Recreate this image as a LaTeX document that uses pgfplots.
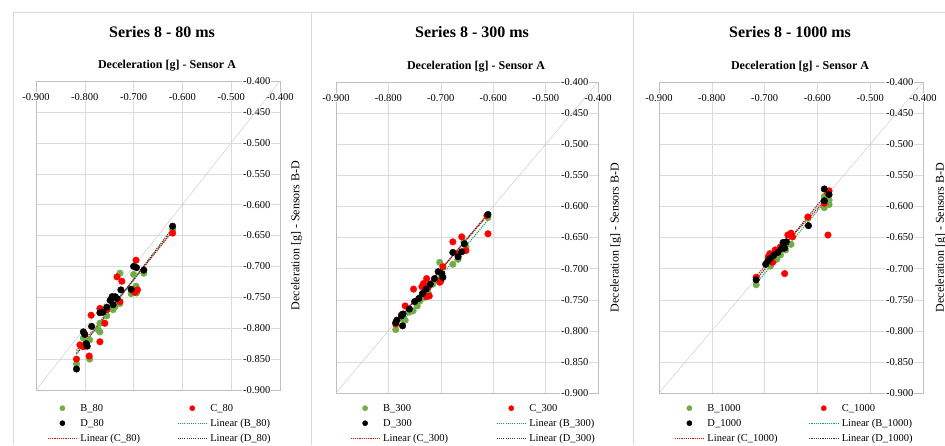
\documentclass[border=0pt]{standalone}
\usepackage{fontspec}
\setmainfont{Liberation Serif}
\usepackage{pgfplots}
\pgfplotsset{compat=1.18}
\definecolor{bgreen}{RGB}{112,173,71}
\definecolor{cred}{RGB}{255,0,0}
\definecolor{tgreen}{RGB}{0,176,80}
\pgfplotsset{
  markleg/.style={legend image code/.code={%
      \draw[mark repeat=2,mark phase=2,##1,mark size=2.6pt] plot coordinates {(0pt,0pt) (14.5pt,0pt) (29pt,0pt)};}},
  lineleg/.style={legend image code/.code={\draw[##1] (0pt,0pt) -- (29pt,0pt);}},
  sB/.style={only marks, mark=*, mark size=3.3pt, color=bgreen, markleg},
  sC/.style={only marks, mark=*, mark size=3.3pt, color=cred, markleg},
  sD/.style={only marks, mark=*, mark size=3.3pt, color=black, markleg},
  tB/.style={color=tgreen, line width=1.1pt, dash pattern=on 1.1pt off 1.1pt, lineleg},
  tC/.style={color=cred, line width=1.1pt, dash pattern=on 1.1pt off 1.1pt, lineleg},
  tD/.style={color=black!80, line width=1.1pt, dash pattern=on 1.1pt off 1.1pt, lineleg},
  panel/.style={
    scale only axis, anchor=south west,
    xmin=-0.9, xmax=-0.4, ymin=-0.9, ymax=-0.4,
    xtick={-0.9,-0.8,-0.7,-0.6,-0.5,-0.4},
    xticklabels={-0.900,-0.800,-0.700,-0.600,-0.500,-0.400},
    ytick={-0.9,-0.85,-0.8,-0.75,-0.7,-0.65,-0.6,-0.55,-0.5,-0.45,-0.4},
    yticklabels={-0.900,-0.850,-0.800,-0.750,-0.700,-0.650,-0.600,-0.550,-0.500,-0.450,-0.400},
    xticklabel pos=right, yticklabel pos=right,
    xticklabel shift=-20.5pt, yticklabel shift=-38pt,
    grid=major, major grid style={draw=black!14},
    axis line style={draw=black!25},
    major tick length=0pt,
    tick label style={font=\fontsize{10.5}{12}\selectfont, fill=white, inner sep=1pt},
    xlabel={Deceleration [g] - Sensor A},
    ylabel={Deceleration [g] - Sensors B-D},
    xlabel style={at={(axis description cs:0.5,1)}, anchor=center, yshift=15pt, xshift=9pt, font=\bfseries\fontsize{12}{14}\selectfont},
    ylabel style={at={(axis description cs:1.068,0.5)}, anchor=center, font=\fontsize{12}{14}\selectfont},
    legend columns=2, legend cell align=left,
    legend style={draw=none, fill=none, inner sep=0pt, column sep=0pt,
      at={(axis description cs:0.5,0)}, anchor=north,
      font=\fontsize{10.5}{12}\selectfont,
      nodes={inner xsep=3pt, inner ysep=1.5pt, text height=9pt, text depth=3pt}},
  }
}
\begin{document}
\begin{tikzpicture}[x=1pt,y=1pt]
\path[use as bounding box] (0,0) rectangle (945,445);
\draw[black!15] (13,0) -- (13,433) -- (945,433);
\draw[black!15] (311,0) -- (311,433);
\draw[black!15] (633,0) -- (633,433);
\node[font=\bfseries\fontsize{16}{19}\selectfont] at (162,413) {Series 8 - 80 ms};
\node[font=\bfseries\fontsize{16}{19}\selectfont] at (472,413) {Series 8 - 300 ms};
\node[font=\bfseries\fontsize{16}{19}\selectfont] at (790,413) {Series 8 - 1000 ms};

% ---------------- Panel 1: 80 ms
\begin{axis}[panel, at={(36pt,55pt)}, width=244pt, height=309pt,
  legend style={xshift=2.5pt, yshift=-10.5pt, /tikz/every even column/.append style={column sep=34pt}}]
\addplot[gray!45, thin, forget plot] coordinates {(-0.9,-0.9) (-0.4,-0.4)};
\addplot[sB] coordinates {
(-0.620,-0.640) (-0.679,-0.711) (-0.728,-0.711) (-0.700,-0.713) (-0.695,-0.732)
(-0.705,-0.744) (-0.694,-0.743) (-0.742,-0.770) (-0.738,-0.765) (-0.755,-0.780)
(-0.769,-0.792) (-0.772,-0.803) (-0.769,-0.806) (-0.803,-0.816) (-0.790,-0.819)
(-0.797,-0.824) (-0.790,-0.850) (-0.817,-0.858) (-0.760,-0.775) (-0.728,-0.760)};
\addlegendentry{B\_80}
\addplot[sC] coordinates {
(-0.620,-0.646) (-0.695,-0.690) (-0.734,-0.717) (-0.724,-0.724) (-0.700,-0.740)
(-0.697,-0.742) (-0.728,-0.757) (-0.787,-0.779) (-0.769,-0.768) (-0.759,-0.792)
(-0.769,-0.822) (-0.810,-0.827) (-0.803,-0.830) (-0.791,-0.845) (-0.817,-0.850)
(-0.745,-0.752) (-0.755,-0.770) (-0.692,-0.738)};
\addlegendentry{C\_80}
\addplot[sD] coordinates {
(-0.620,-0.635) (-0.700,-0.700) (-0.694,-0.702) (-0.679,-0.706) (-0.705,-0.737)
(-0.726,-0.738) (-0.744,-0.749) (-0.738,-0.749) (-0.734,-0.752) (-0.742,-0.762)
(-0.755,-0.766) (-0.769,-0.775) (-0.763,-0.774) (-0.786,-0.797) (-0.803,-0.806)
(-0.800,-0.810) (-0.797,-0.825) (-0.795,-0.829) (-0.817,-0.866) (-0.748,-0.755)};
\addlegendentry{D\_80}
\addplot[tB] coordinates {(-0.817,-0.840) (-0.620,-0.642)};
\addlegendentry{Linear (B\_80)}
\addplot[tC] coordinates {(-0.817,-0.836) (-0.620,-0.643)};
\addlegendentry{Linear (C\_80)}
\addplot[tD] coordinates {(-0.817,-0.842) (-0.620,-0.638)};
\addlegendentry{Linear (D\_80)}
\end{axis}

% ---------------- Panel 2: 300 ms
\begin{axis}[panel, at={(336pt,52pt)}, width=262pt, height=311pt,
  legend style={xshift=7pt, yshift=-7.5pt, /tikz/every even column/.append style={column sep=45pt}}]
\addplot[gray!45, thin, forget plot] coordinates {(-0.9,-0.9) (-0.4,-0.4)};
\addplot[sB] coordinates {
(-0.610,-0.618) (-0.656,-0.657) (-0.652,-0.665) (-0.667,-0.685) (-0.677,-0.693)
(-0.702,-0.690) (-0.724,-0.739) (-0.734,-0.747) (-0.740,-0.752) (-0.745,-0.760)
(-0.753,-0.768) (-0.768,-0.783) (-0.786,-0.798) (-0.700,-0.715) (-0.715,-0.725)
(-0.760,-0.770) (-0.775,-0.780)};
\addlegendentry{B\_300}
\addplot[sC] coordinates {
(-0.610,-0.644) (-0.660,-0.649) (-0.677,-0.657) (-0.652,-0.671) (-0.696,-0.697)
(-0.700,-0.720) (-0.702,-0.722) (-0.727,-0.716) (-0.733,-0.724) (-0.724,-0.730)
(-0.752,-0.733) (-0.736,-0.729) (-0.727,-0.745) (-0.722,-0.744) (-0.768,-0.760)
(-0.775,-0.774) (-0.786,-0.789) (-0.668,-0.676) (-0.612,-0.615)};
\addlegendentry{C\_300}
\addplot[sD] coordinates {
(-0.610,-0.613) (-0.660,-0.673) (-0.677,-0.674) (-0.667,-0.681) (-0.655,-0.660)
(-0.705,-0.705) (-0.698,-0.708) (-0.696,-0.714) (-0.712,-0.716) (-0.720,-0.725)
(-0.728,-0.733) (-0.735,-0.740) (-0.742,-0.748) (-0.750,-0.753) (-0.760,-0.765)
(-0.772,-0.773) (-0.775,-0.776) (-0.784,-0.783) (-0.786,-0.787) (-0.773,-0.792)};
\addlegendentry{D\_300}
\addplot[tB] coordinates {(-0.786,-0.797) (-0.610,-0.622)};
\addlegendentry{Linear (B\_300)}
\addplot[tC] coordinates {(-0.786,-0.786) (-0.610,-0.614)};
\addlegendentry{Linear (C\_300)}
\addplot[tD] coordinates {(-0.786,-0.788) (-0.610,-0.612)};
\addlegendentry{Linear (D\_300)}
\end{axis}

% ---------------- Panel 3: 1000 ms
\begin{axis}[panel, at={(659pt,52pt)}, width=264pt, height=311pt,
  legend style={xshift=4pt, yshift=-7.5pt, /tikz/every even column/.append style={column sep=28pt}}]
\addplot[gray!45, thin, forget plot] coordinates {(-0.9,-0.9) (-0.4,-0.4)};
\addplot[sB] coordinates {
(-0.587,-0.584) (-0.578,-0.590) (-0.587,-0.602) (-0.578,-0.597) (-0.618,-0.619)
(-0.650,-0.661) (-0.662,-0.667) (-0.677,-0.685) (-0.683,-0.688) (-0.689,-0.696)
(-0.670,-0.678) (-0.660,-0.670) (-0.716,-0.726) (-0.695,-0.692) (-0.655,-0.660)};
\addlegendentry{B\_1000}
\addplot[sC] coordinates {
(-0.578,-0.575) (-0.580,-0.579) (-0.587,-0.595) (-0.618,-0.617) (-0.580,-0.646)
(-0.650,-0.643) (-0.656,-0.646) (-0.647,-0.649) (-0.680,-0.670) (-0.677,-0.674)
(-0.693,-0.681) (-0.685,-0.690) (-0.662,-0.708) (-0.716,-0.714) (-0.670,-0.665)
(-0.690,-0.676)};
\addlegendentry{C\_1000}
\addplot[sD] coordinates {
(-0.587,-0.572) (-0.578,-0.581) (-0.587,-0.591) (-0.617,-0.631) (-0.665,-0.658)
(-0.659,-0.657) (-0.662,-0.667) (-0.675,-0.674) (-0.690,-0.684) (-0.698,-0.693)
(-0.683,-0.679) (-0.668,-0.668) (-0.716,-0.718) (-0.694,-0.688)};
\addlegendentry{D\_1000}
\addplot[tB] coordinates {(-0.716,-0.724) (-0.578,-0.585)};
\addlegendentry{Linear (B\_1000)}
\addplot[tC] coordinates {(-0.716,-0.712) (-0.578,-0.583)};
\addlegendentry{Linear (C\_1000)}
\addplot[tD] coordinates {(-0.716,-0.718) (-0.578,-0.575)};
\addlegendentry{Linear (D\_1000)}
\end{axis}
\end{tikzpicture}
\end{document}
